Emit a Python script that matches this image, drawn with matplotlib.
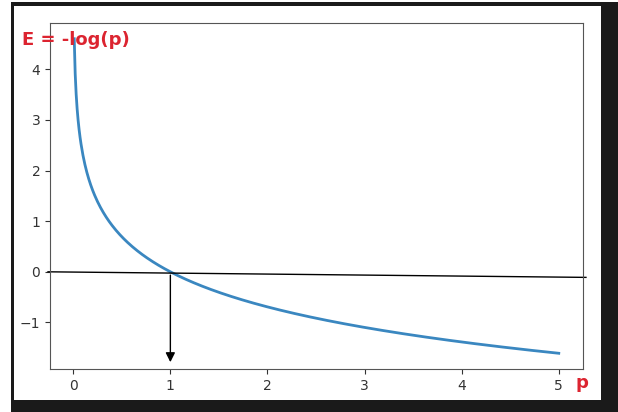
import numpy as np
import matplotlib
matplotlib.use("Agg")
import matplotlib.pyplot as plt
from matplotlib.patches import Rectangle

# curve data: p from 0.01 to 5, E = -log(p)
p_start = 0.01
p_end = 5
n_points = 500

xticks = [0, 1, 2, 3, 4, 5]
yticks = [-1, 0, 1, 2, 3, 4]

# hand-drawn reference line (slightly tilted) and arrow at p = 1
line_x = [-0.26, 5.28]
line_y = [0.0, -0.11]
arrow_x = 1
arrow_y = [-0.01, -1.84]

RED = "#dc2430"
W, H = 618, 412

p = np.linspace(p_start, p_end, n_points)
E = -np.log(p)

fig = plt.figure(figsize=(W / 100, H / 100), dpi=100)
ax = fig.add_axes([50 / W, 1 - 369 / H, (583 - 50) / W, (369 - 23) / H])

ax.plot(p, E, color="#3a87c0", lw=2)
ax.autoscale_view()
ax.set_autoscale_on(False)  # keep limits from the curve only
ax.set_xticks(xticks)
ax.set_yticks(yticks)
ax.tick_params(labelsize=10, colors="#333333")
for s in ax.spines.values():
    s.set_color("#555555")

ax.plot(line_x, line_y, color="black", lw=1, clip_on=False)
ax.annotate("", xy=(arrow_x, arrow_y[1]), xytext=(arrow_x, arrow_y[0]),
            arrowprops=dict(arrowstyle="-|>", color="black", lw=1,
                            mutation_scale=14))

# red labels
fig.text(22 / W, 1 - 40 / H, "E = -log(p)", color=RED, fontsize=13,
         fontweight="bold", va="center", ha="left")
fig.text(582 / W, 1 - 383 / H, "p", color=RED, fontsize=13,
         fontweight="bold", va="center", ha="center")

# screenshot frame
def px_rect(x0, y0, x1, y1):
    fig.add_artist(Rectangle((x0 / W, 1 - y1 / H), (x1 - x0) / W, (y1 - y0) / H,
                             transform=fig.transFigure, color="#1a1a1a", lw=0))

px_rect(11, 2, 618, 6)     # top
px_rect(11, 2, 14, 412)    # left
px_rect(601, 2, 618, 412)  # right
px_rect(11, 400, 618, 412) # bottom

fig.savefig("out.png", dpi=100)
